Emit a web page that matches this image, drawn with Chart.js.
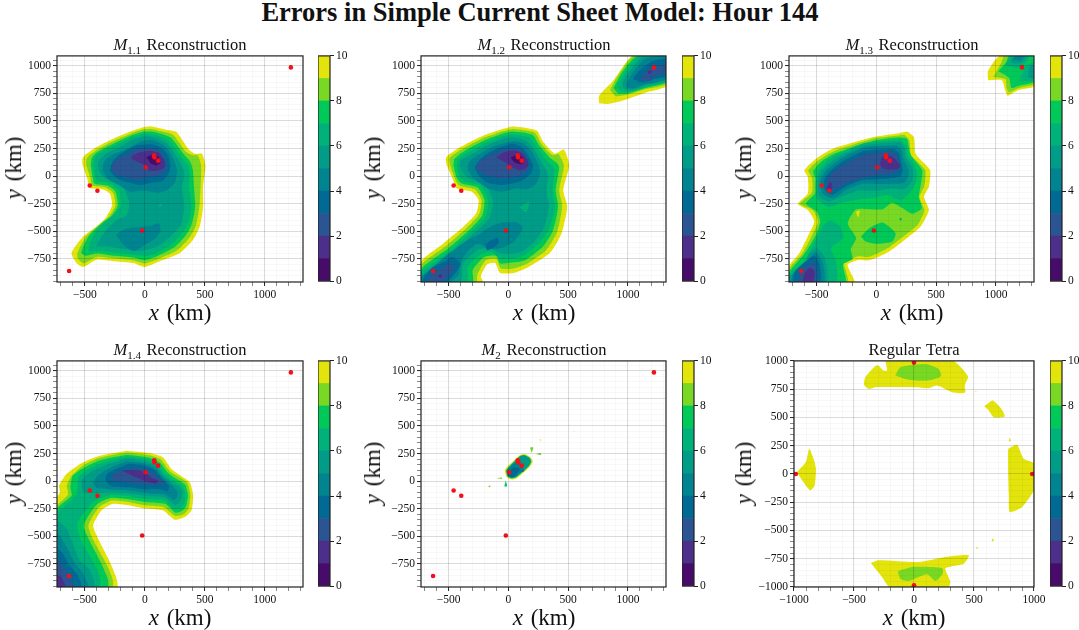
<!DOCTYPE html>
<html>
<head>
<meta charset="utf-8">
<script src="https://cdn.jsdelivr.net/npm/chart.js@4"></script>
<style>
  html, body { margin: 0; padding: 0; background: #fff; }
  #page { position: relative; width: 1079px; height: 630px; overflow: hidden; font-family: "Liberation Serif", serif; color: #111; }
  canvas { position: absolute; }
  .lbl { position: absolute; white-space: nowrap; transform: translate(-50%, -50%); }
  .sup { font-weight: bold; font-size: 26.5px; }
  .ttl { font-size: 16.5px; word-spacing: 1.5px; }
  .ttl sub { font-size: 11px; line-height: 0; }
  .axl { font-size: 23px; word-spacing: 2px; }
  .rot { transform: translate(-50%, -50%) rotate(-90deg); }
</style>
</head>
<body>
<div id="page"></div>
<script>
const figureTitle = "Errors in Simple Current Sheet Model: Hour 144";
const panelTitles = ["<i>M</i><sub>1.1</sub> Reconstruction", "<i>M</i><sub>1.2</sub> Reconstruction", "<i>M</i><sub>1.3</sub> Reconstruction",
  "<i>M</i><sub>1.4</sub> Reconstruction", "<i>M</i><sub>2</sub> Reconstruction", "Regular Tetra"];

// contour band colours, 0-1 up to 9-10
const bandColors = ["#470b69", "#4c2f8b", "#2a5592", "#006a94", "#008490", "#009c88", "#00b27a", "#00c95a", "#78d823", "#e2e40c"];
const barLevels = [1, 1, 1, 1, 1, 1, 1, 1, 1, 1];
const barTicks = [0, 2, 4, 6, 8, 10];

const xMajor = [-500, 0, 500, 1000];
const yMajor = [-750, -500, -250, 0, 250, 500, 750, 1000];
const xMinor = [-700, -600, -400, -300, -200, -100, 100, 200, 300, 400, 600, 700, 800, 900, 1100, 1200, 1300];
const yMinor = [-950, -900, -850, -800, -700, -650, -600, -550, -450, -400, -350, -300, -200, -150, -100, -50, 50, 100, 150, 200, 300, 350, 400, 450, 550, 600, 650, 700, 800, 850, 900, 950, 1050];
const xMajor6 = [-1000, -500, 0, 500, 1000];
const yMajor6 = [-1000, -750, -500, -250, 0, 250, 500, 750, 1000];
const xMinor6 = [-900, -800, -700, -600, -400, -300, -200, -100, 100, 200, 300, 400, 600, 700, 800, 900];
const yMinor6 = [-950, -900, -850, -800, -700, -650, -600, -550, -450, -400, -350, -300, -200, -150, -100, -50, 50, 100, 150, 200, 300, 350, 400, 450, 550, 600, 650, 700, 800, 850, 900, 950];

// spacecraft positions, km
const craftX = [1218, -631, -459, -395, -22, 6, 78, 81, 111];
const craftY = [986, -858, -84, -132, -492, 81, 189, 171, 141];
const tetraX = [0, 0, -985, 985];
const tetraY = [985, -985, 0, 0];

// contours: [band, [x, y, x, y, ...]] painted in order, km
const m11 = [
  [9, [-14,444, 55,450, 180,420, 264,400, 314,325, 361,250, 417,204, 476,204, 506,99, 486,-96, 486,-276, 458,-456, 403,-576, 292,-696, 125,-771, 0,-822, -97,-786, -264,-771, -403,-756, -514,-822, -570,-786, -611,-696, -514,-546, -403,-456, -320,-366, -272,-261, -292,-156, -348,-120, -459,-105, -480,-21, -520,114, -514,174, -403,264, -236,354, -97,414]],
  [8, [-10,425, 55,428, 165,400, 235,375, 290,300, 340,225, 400,190, 440,190, 470,100, 465,-96, 455,-276, 425,-450, 370,-560, 270,-670, 120,-745, 0,-790, -97,-760, -264,-745, -400,-730, -510,-790, -560,-740, -560,-690, -490,-545, -380,-440, -295,-360, -245,-260, -265,-150, -330,-100, -440,-85, -455,-10, -490,110, -480,170, -390,245, -230,335, -97,395]],
  [7, [-10,405, 55,405, 150,380, 215,350, 270,280, 320,205, 380,130, 400,60, 410,-96, 420,-276, 390,-440, 340,-540, 250,-640, 110,-720, 0,-760, -97,-735, -264,-720, -400,-700, -490,-720, -530,-690, -470,-545, -360,-425, -270,-350, -225,-260, -245,-140, -310,-85, -420,-65, -435,-5, -450,100, -440,170, -380,230, -225,315, -97,375]],
  [6, [-10,385, 50,385, 130,360, 195,325, 250,260, 300,180, 360,100, 375,30, 370,-100, 390,-276, 360,-430, 300,-530, 220,-620, 100,-695, 0,-725, -97,-710, -264,-690, -390,-680, -470,-680, -440,-550, -340,-420, -250,-340, -200,-260, -215,-130, -290,-65, -400,-40, -415,0, -430,90, -420,165, -370,215, -220,295, -97,355]],
  [5, [-20,360, 50,360, 120,335, 180,300, 230,235, 280,150, 320,70, 330,0, 310,-100, 330,-280, 300,-440, 220,-540, 130,-620, 40,-660, -40,-680, -170,-660, -280,-640, -400,-630, -330,-500, -240,-400, -150,-350, -130,-240, -170,-120, -230,-60, -330,-20, -380,40, -390,130, -330,200, -200,270, -97,330]],
  [6, [115,-265, 130,-250, 145,-262, 128,-275]],
  [4, [-30,320, 60,330, 130,300, 180,260, 240,150, 270,60, 250,-60, 180,-130, 100,-150, 0,-130, -120,-140, -200,-90, -300,-30, -350,50, -340,130, -280,190, -150,250]],
  [4, [-240,-530, -170,-480, -60,-460, 40,-450, 120,-430, 130,-500, 80,-570, 0,-620, -90,-680, -170,-630]],
  [3, [-60,285, 60,290, 130,265, 190,200, 215,100, 200,30, 150,-40, 60,-60, -40,-80, -130,-60, -230,-20, -290,50, -270,130, -220,190, -130,250]],
  [2, [-60,250, 60,255, 130,220, 170,130, 180,60, 130,10, 40,-5, -60,-30, -170,-10, -260,30, -280,90, -240,150, -150,200]],
  [1, [-120,170, -60,210, 40,230, 120,210, 170,130, 160,75, 100,50, 40,50, 0,100, -60,130]],
  [0, [10,170, 60,195, 110,180, 130,120, 90,100, 50,115, 30,150]]
];

const m12 = [
  [9, [-42,429, 42,450, 236,414, 292,309, 389,204, 464,243, 509,99, 459,-126, 492,-276, 445,-516, 347,-696, 153,-831, 42,-876, -70,-876, -111,-786, -181,-801, -231,-906, -214,-960, -732,-960, -732,-771, -542,-606, -375,-456, -270,-336, -250,-216, -306,-141, -431,-111, -473,-6, -520,114, -520,174, -403,264, -208,369]],
  [8, [-40,410, 42,428, 220,395, 275,295, 370,190, 420,200, 465,95, 425,-126, 450,-276, 405,-510, 315,-670, 150,-795, 45,-835, -65,-835, -100,-750, -190,-760, -260,-890, -270,-960, -732,-960, -732,-805, -520,-630, -350,-470, -245,-345, -225,-215, -280,-120, -410,-85, -450,-15, -490,110, -490,170, -390,245, -200,350]],
  [7, [-40,390, 40,405, 200,375, 255,285, 345,170, 405,120, 425,80, 395,-126, 415,-276, 370,-500, 285,-640, 140,-760, 45,-780, -70,-790, -100,-720, -200,-730, -300,-850, -300,-960, -732,-960, -732,-840, -500,-650, -330,-490, -220,-355, -200,-215, -260,-100, -390,-65, -430,-20, -460,100, -450,160, -375,225, -190,330]],
  [6, [-40,365, 40,380, 175,350, 235,270, 320,140, 385,70, 370,-130, 390,-280, 340,-480, 255,-610, 130,-720, 40,-745, -70,-750, -130,-690, -220,-700, -340,-820, -350,-960, -732,-960, -732,-870, -480,-670, -310,-500, -195,-370, -170,-220, -235,-85, -370,-45, -410,-5, -430,95, -420,150, -355,205, -180,310]],
  [5, [-40,340, 40,350, 150,320, 215,240, 280,120, 330,20, 320,-130, 340,-280, 300,-460, 220,-590, 120,-680, 30,-700, -60,-700, -170,-650, -260,-670, -380,-790, -400,-960, -732,-960, -732,-900, -460,-700, -290,-520, -160,-380, -130,-220, -200,-70, -340,-15, -395,60, -400,140, -320,190, -160,290]],
  [6, [95,-280, 175,-230, 155,-320, 130,-320]],
  [6, [-190,-320, -170,-300, -150,-320, -170,-340]],
  [4, [-30,300, 50,320, 130,295, 190,230, 250,110, 265,30, 230,-70, 150,-120, 60,-110, -60,-140, -170,-110, -290,-20, -340,60, -330,130, -260,190, -130,270]],
  [4, [-260,-540, -170,-470, -60,-420, 70,-420, 120,-470, 50,-590, -30,-640, -140,-660, -230,-620, -280,-620, -350,-690, -400,-780, -420,-900, -500,-960, -732,-960, -732,-920, -500,-700, -400,-620, -330,-570]],
  [3, [-700,-960, -720,-940, -640,-830, -530,-770, -470,-730, -400,-790, -440,-870, -520,-960]],
  [3, [-190,-620, -150,-580, -90,-560, -80,-600, -130,-650, -180,-670]],
  [2, [-680,-960, -640,-880, -560,-830, -500,-790, -450,-820, -490,-890, -550,-960]],
  [1, [-590,-900, -570,-885, -555,-910, -575,-925]],
  [3, [-40,275, 40,295, 120,260, 170,180, 205,100, 190,30, 130,-30, 60,-60, -60,-80, -170,-60, -250,10, -280,80, -240,150, -140,230]],
  [2, [-40,240, 50,250, 130,215, 175,110, 150,40, 80,0, -50,-20, -190,10, -270,70, -260,120, -190,170, -120,210]],
  [1, [-100,170, -40,215, 50,235, 125,200, 170,120, 150,70, 90,55, 50,70, 10,100, -50,140]],
  [0, [20,170, 60,190, 110,180, 130,130, 100,110, 60,120, 35,145]],
  [9, [759,660, 759,729, 876,864, 1042,1095, 1325,1095, 1325,819, 1154,759, 931,678, 820,654]],
  [8, [850,780, 900,880, 1050,1095, 1325,1095, 1325,840, 1150,790, 1000,740, 900,725]],
  [7, [880,800, 950,940, 1080,1095, 1325,1095, 1325,855, 1150,800, 1000,750, 920,750]],
  [6, [910,820, 980,945, 1100,1095, 1325,1095, 1325,865, 1150,810, 1020,765, 940,770]],
  [5, [950,840, 1020,960, 1120,1080, 1250,1095, 1325,1095, 1325,875, 1150,825, 1030,780, 970,790]],
  [4, [1000,870, 1060,970, 1140,1060, 1250,1090, 1325,1090, 1325,885, 1150,835, 1040,795, 985,810]],
  [3, [1040,880, 1100,960, 1200,1040, 1325,1060, 1325,910, 1220,880, 1120,850]],
  [2, [1100,880, 1160,960, 1230,1000, 1325,1000, 1325,930, 1250,920, 1180,860]],
  [1, [1165,950, 1190,960, 1195,930, 1170,925]]
];

const m13 = [
  [9, [259,405, 314,354, 328,204, 389,129, 450,54, 439,-96, 398,-186, 439,-306, 370,-456, 272,-546, 106,-681, -61,-762, -145,-756, -242,-801, -214,-876, -186,-960, -732,-960, -732,-816, -645,-696, -575,-546, -520,-411, -575,-306, -659,-252, -575,-156, -575,-6, -603,54, -506,159, -367,249, -33,354, 189,390]],
  [8, [235,375, 275,325, 290,190, 350,125, 410,50, 400,-90, 360,-186, 400,-310, 345,-440, 250,-525, 95,-650, -60,-730, -150,-725, -270,-780, -250,-880, -240,-960, -732,-960, -732,-840, -620,-700, -540,-540, -490,-410, -530,-310, -640,-250, -540,-150, -540,-10, -570,50, -490,140, -360,225, -30,340, 190,370]],
  [7, [259,340, 285,200, 340,120, 385,50, 370,-80, 355,-190, 380,-290, 300,-340, 220,-290, 130,-240, 50,-300, -170,-300, -240,-430, -170,-560, -215,-660, -200,-750, -280,-800, -260,-960, -732,-960, -732,-870, -600,-700, -510,-540, -470,-410, -500,-320, -590,-250, -510,-150, -510,-20, -530,40, -470,125, -350,205, -30,320, 190,350]],
  [7, [-130,-546, -60,-471, 50,-420, 160,-516, 133,-591, -5,-612, -90,-591]],
  [9, [-170,-320, -140,-310, -150,-370, -165,-350]],
  [6, [190,-385, 205,-375, 215,-390, 200,-400]],
  [6, [200,330, 250,280, 265,190, 310,120, 340,40, 330,-60, 280,-150, 200,-220, 100,-170, 0,-190, -150,-210, -300,-240, -400,-280, -500,-200, -510,-60, -480,60, -400,150, -300,210, -100,300]],
  [6, [-732,-960, -732,-890, -600,-760, -500,-560, -440,-440, -380,-400, -300,-460, -280,-560, -380,-650, -340,-760, -340,-960]],
  [5, [190,310, 235,260, 245,170, 290,100, 310,30, 290,-60, 230,-120, 130,-110, 0,-130, -150,-130, -280,-180, -400,-230, -480,-180, -490,-50, -460,50, -380,130, -290,190, -100,280]],
  [5, [-732,-960, -732,-910, -620,-820, -560,-700, -500,-650, -430,-740, -420,-960]],
  [4, [170,280, 210,240, 225,160, 260,80, 270,10, 230,-60, 120,-70, 0,-70, -120,-70, -250,-120, -360,-200, -450,-160, -470,-50, -430,40, -360,110, -280,170, -100,260]],
  [4, [-720,-960, -690,-870, -600,-790, -510,-690, -450,-780, -440,-960]],
  [3, [150,250, 190,210, 205,130, 220,60, 200,0, 100,-20, -20,-30, -140,-40, -270,-100, -370,-170, -430,-130, -440,-40, -400,30, -340,90, -260,150, -100,230]],
  [3, [-700,-960, -680,-860, -590,-770, -520,-720, -480,-780, -470,-960]],
  [2, [130,225, 170,190, 190,110, 180,50, 120,20, 20,10, -100,-10, -260,-70, -370,-130, -420,-100, -410,-30, -370,30, -310,80, -230,130, -90,200]],
  [2, [-660,-960, -630,-850, -560,-790, -510,-790, -500,-960]],
  [1, [55,190, 125,180, 195,110, 190,70, 120,60, 50,70, 30,120]],
  [1, [-420,-120, -390,-50, -370,-70, -380,-130]],
  [1, [-620,-960, -600,-880, -560,-830, -520,-860, -530,-960]],
  [9, [934,870, 934,954, 1037,1095, 1325,1095, 1325,819, 1190,780, 1100,729, 1079,774, 1050,870]],
  [8, [980,900, 1050,1040, 1070,1095, 1325,1095, 1325,840, 1190,800, 1110,760, 1090,800, 1080,880]],
  [7, [1020,950, 1090,1040, 1110,1095, 1325,1095, 1325,860, 1190,820, 1130,800, 1110,890]],
  [6, [1080,1010, 1130,1095, 1280,1095, 1240,1010, 1160,980]],
  [5, [1120,1040, 1160,1095, 1260,1095, 1220,1030, 1160,1020]],
  [4, [1140,1060, 1180,1095, 1240,1095, 1200,1050]],
  [6, [1200,860, 1240,990, 1325,1030, 1325,870]],
  [5, [1265,900, 1280,990, 1325,1010, 1325,885]]
];

const m14 = [
  [9, [-153,276, 42,255, 153,216, 222,111, 292,57, 375,-9, 403,-129, 389,-264, 334,-324, 250,-348, 153,-264, 14,-249, -125,-219, -264,-204, -361,-264, -431,-399, -389,-519, -292,-729, -236,-879, -231,-960, -735,-960, -735,-159, -709,-99, -714,-39, -653,66, -514,171, -375,231]],
  [8, [-150,260, 40,235, 135,195, 205,95, 280,40, 355,-15, 380,-125, 365,-245, 330,-295, 255,-315, 160,-235, 15,-220, -125,-190, -275,-175, -385,-240, -470,-400, -430,-530, -330,-730, -270,-880, -270,-960, -735,-960, -735,-235, -640,-120, -650,-40, -610,50, -505,150, -370,215]],
  [7, [-150,240, 30,215, 125,170, 190,80, 265,20, 335,-30, 360,-125, 345,-225, 315,-265, 255,-285, 170,-205, 20,-190, -125,-165, -280,-150, -400,-210, -510,-400, -460,-540, -370,-730, -310,-880, -310,-960, -735,-960, -735,-260, -610,-130, -620,-60, -600,50, -495,130, -360,195]],
  [6, [-150,225, 20,200, 110,150, 175,60, 250,0, 310,-40, 340,-125, 325,-215, 290,-245, 240,-250, 170,-175, 30,-165, -130,-135, -280,-125, -420,-180, -560,-380, -530,-540, -430,-730, -370,-880, -380,-960, -735,-960, -735,-310, -570,-120, -560,-20, -550,40, -470,110, -340,175]],
  [5, [-150,205, 10,180, 100,135, 160,50, 240,-20, 300,-60, 310,-130, 290,-190, 250,-215, 170,-145, 40,-135, -130,-110, -290,-100, -430,-110, -510,-100, -530,-30, -520,20, -440,90, -320,150]],
  [5, [-735,-350, -650,-430, -610,-540, -540,-720, -460,-800, -420,-960, -735,-960]],
  [4, [-150,180, 0,160, 90,120, 150,35, 220,-30, 270,-90, 270,-140, 240,-170, 170,-120, 50,-110, -130,-85, -290,-75, -400,-60, -430,-10, -380,60, -290,120]],
  [4, [-735,-460, -670,-560, -640,-620, -590,-730, -520,-830, -470,-960, -735,-960]],
  [3, [-130,160, 0,140, 80,105, 140,30, 200,-40, 190,-90, 110,-70, 0,-75, -130,-55, -290,-40, -330,20, -310,70, -240,110]],
  [3, [-735,-600, -680,-660, -640,-740, -560,-850, -530,-960, -735,-960]],
  [2, [-120,110, 0,110, 70,70, 130,20, 170,-20, 90,-30, 0,-30, -130,-10, -260,10, -270,60, -210,90]],
  [2, [-735,-700, -690,-760, -620,-880, -590,-960, -735,-960]],
  [1, [-190,100, -60,100, 0,80, 60,30, 110,10, 90,-20, 30,-10, -60,30, -140,70]],
  [1, [-735,-850, -700,-860, -660,-960, -735,-960]]
];

const m2 = [
  [9, [-31,96, -14,126, 97,237, 139,246, 186,216, 203,177, 175,126, 70,27, 28,15, -14,36]],
  [6, [-20,96, -8,118, 97,228, 135,237, 178,212, 192,177, 168,132, 65,35, 28,25, -8,42]],
  [5, [-15,95, -5,110, 95,222, 133,230, 170,210, 185,177, 160,135, 65,42, 28,32, -5,48]],
  [4, [-15,95, 0,112, 55,170, 90,160, 125,110, 60,42, 28,32, -5,48]],
  [3, [-10,90, 10,100, 50,130, 100,110, 55,50, 30,38, 0,55]],
  [2, [105,95, 125,105, 130,90, 115,85]],
  [8, [180,306, 208,306, 195,261]],
  [8, [228,246, 272,255, 272,237]],
  [9, [262,378, 272,380, 268,360]],
  [9, [540,450, 548,455, 545,445]],
  [8, [-97,27, -55,33, -55,21]],
  [8, [-170,-45, -150,-38, -155,-55]],
  [7, [-22,6, -33,-45, -11,-45]]
];

const tetra = [
  [9, [-239,1005, -225,914, -253,914, -309,964, -406,855, -417,788, -378,752, -322,767, 11,767, 122,758, 192,782, 317,723, 386,714, 428,723, 423,782, 450,864, 317,1005]],
  [8, [-156,870, -114,944, 95,973, 206,929, 225,864, 122,826, 11,826, -72,840]],
  [9, [-359,-788, -295,-764, 39,-779, 261,-735, 456,-720, 414,-794, 317,-817, 261,-838, 303,-956, 284,-1005, -197,-1005, -267,-911]],
  [8, [-136,-861, -17,-823, 234,-832, 239,-882, 178,-947, 108,-888, -44,-947, -114,-926]],
  [9, [784,222, 859,258, 914,134, 1005,90, 1005,-131, 901,-293, 798,-337, 790,-190, 784,45]],
  [9, [-976,16, -901,105, -873,222, -837,134, -817,45, -828,-102, -865,-146, -912,-87]],
  [9, [587,599, 656,649, 728,576, 756,508, 664,502, 623,561]],
  [9, [790,290, 798,320, 806,290]],
  [9, [646,-585, 656,-570, 666,-585, 656,-600]],
  [9, [515,-655, 525,-648, 535,-655, 525,-662]],
  [9, [505,729, 515,733, 522,727]]
];

const panelContours = [m11, m12, m13, m14, m2, tetra];

const frame = {
  id: "frame",
  afterDraw(chart) {
    const a = chart.chartArea, c = chart.ctx;
    c.save();
    c.strokeStyle = "#222";
    c.lineWidth = 1.2;
    c.strokeRect(a.left, a.top, a.right - a.left, a.bottom - a.top);
    c.restore();
  }
};

const page = document.getElementById("page");
const tickFont = { family: "Liberation Serif", size: 11.5 };

function addCanvas(left, top, w, h) {
  const cv = document.createElement("canvas");
  cv.width = w; cv.height = h;
  cv.style.left = left + "px"; cv.style.top = top + "px";
  cv.style.width = w + "px"; cv.style.height = h + "px";
  page.appendChild(cv);
  return cv;
}

function addLabel(html, x, y, cls) {
  const d = document.createElement("div");
  d.className = "lbl " + cls;
  d.innerHTML = html;
  d.style.left = x + "px"; d.style.top = y + "px";
  page.appendChild(d);
}

function axis(pos, major, minor, min, max, size) {
  const isMajor = v => major.includes(v);
  return {
    type: "linear", position: pos, min: min, max: max,
    afterBuildTicks: s => { s.ticks = major.concat(minor).sort((a, b) => a - b).map(v => ({ value: v })); },
    afterFit: s => { if (pos === "left") s.width = size; else s.height = size; },
    grid: {
      z: 1, tickLength: 4,
      color: c => isMajor(c.tick.value) ? "rgba(0,0,0,0.14)" : "rgba(0,0,0,0.04)",
      lineWidth: c => isMajor(c.tick.value) ? 1.1 : 0.8,
      tickColor: c => isMajor(c.tick.value) ? "#222" : "#555",
      tickWidth: c => isMajor(c.tick.value) ? 1 : 0.7
    },
    border: { display: false },
    ticks: {
      autoSkip: false, maxRotation: 0, minRotation: 0, padding: 2, color: "#111", font: tickFont,
      callback: v => isMajor(v) ? String(v).replace("-", "\u2212") : ""
    }
  };
}

function drawPanel(i, left, top, w, h) {
  const regular = i === 5;
  const datasets = panelContours[i].map((c, k, all) => {
    const pts = [];
    for (let n = 0; n < c[1].length; n += 2) pts.push({ x: c[1][n], y: c[1][n + 1] });
    pts.push(pts[0]);
    return {
      data: pts, showLine: true, fill: "shape", tension: 0.2,
      backgroundColor: bandColors[c[0]], borderColor: "transparent", borderWidth: 0, pointRadius: 0, order: all.length - k
    };
  });
  const xs = regular ? tetraX : craftX, ys = regular ? tetraY : craftY;
  datasets.push({
    data: xs.map((x, n) => ({ x: x, y: ys[n] })), showLine: false,
    backgroundColor: "#f5101c", borderWidth: 0, pointRadius: 2.3, order: -1
  });
  const gutter = 52, padR = 16, padT = 8, padB = 22;
  new Chart(addCanvas(left - gutter, top - padT, gutter + w + padR, padT + h + padB), {
    type: "scatter",
    data: { datasets: datasets },
    options: {
      responsive: false, animation: false, events: [],
      layout: { padding: { left: 0, right: padR, top: padT, bottom: 0 } },
      plugins: { legend: { display: false }, tooltip: { enabled: false } },
      scales: regular ? {
        x: axis("bottom", xMajor6, xMinor6, -1000, 1000, padB),
        y: axis("left", yMajor6, yMinor6, -1000, 1000, gutter)
      } : {
        x: axis("bottom", xMajor, xMinor, -732, 1319, padB),
        y: axis("left", yMajor, yMinor, -958, 1090, gutter)
      }
    },
    plugins: [frame]
  });
}

function drawBar(left, top, w, h) {
  const padT = 8, padB = 8, right = 30;
  new Chart(addCanvas(left, top - padT, w + right, padT + h + padB), {
    type: "bar",
    data: {
      labels: [""],
      datasets: barLevels.map((v, k) => ({ data: [v], backgroundColor: bandColors[k], borderWidth: 0, barPercentage: 1, categoryPercentage: 1 }))
    },
    options: {
      responsive: false, animation: false, events: [],
      layout: { padding: { top: padT, bottom: padB } },
      plugins: { legend: { display: false }, tooltip: { enabled: false } },
      scales: {
        x: { display: false, stacked: true },
        y: {
          position: "right", stacked: true, min: 0, max: 10,
          afterBuildTicks: s => { s.ticks = barTicks.map(v => ({ value: v })); },
          afterFit: s => { s.width = right; },
          grid: { drawOnChartArea: false, tickLength: 4, tickColor: "#222" },
          border: { display: false },
          ticks: { autoSkip: false, padding: 2, color: "#111", font: tickFont }
        }
      }
    },
    plugins: [frame]
  });
}

addLabel(figureTitle, 540, 12, "sup");

const lefts = [57, 421, 789, 57, 421, 794];
const rights = [303, 666, 1034, 303, 666, 1034];
const barLefts = [318, 682, 1050, 318, 682, 1050];
const tops = [55, 55, 55, 360, 360, 360];
const titleX = [180, 544, 912, 180, 544, 914];
const xLabelX = [180, 544, 912, 180, 544, 914];
const yLabelX = [14, 373, 744, 14, 373, 744];

for (let i = 0; i < 6; i++) {
  const h = 227, row = tops[i];
  drawPanel(i, lefts[i], row, rights[i] - lefts[i], h);
  drawBar(barLefts[i], row, 12, h);
  addLabel(panelTitles[i], titleX[i], row - 10, "ttl");
  addLabel("<i>x</i> (km)", xLabelX[i], row + 258, "axl");
  addLabel("<i>y</i> (km)", yLabelX[i], row + 113, "axl rot");
}
</script>
</body>
</html>
